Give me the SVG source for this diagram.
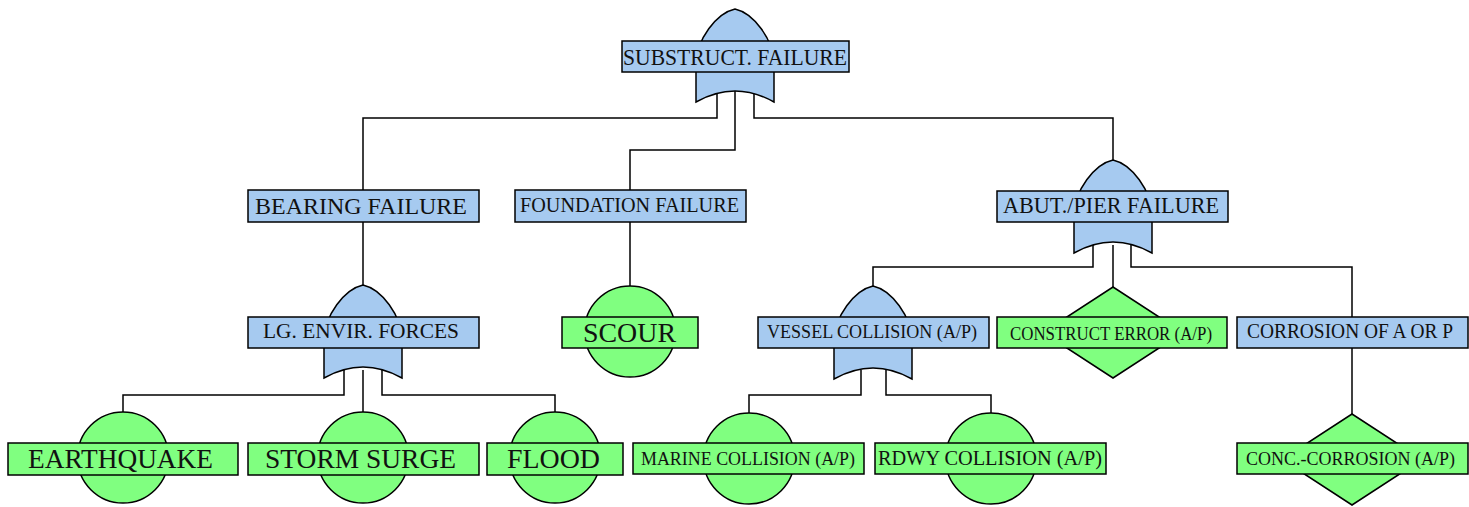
<svg xmlns="http://www.w3.org/2000/svg" xmlns:xlink="http://www.w3.org/1999/xlink" width="1469" height="507" viewBox="0 0 1469 507">
<style>
.bg{fill:#ffffff}
.wire{fill:none;stroke:#000;stroke-width:1.5}
.blue{fill:#A6CAF0;stroke:#000;stroke-width:1.5}
.green{fill:#80FF80;stroke:#000;stroke-width:1.5}
.t{font-family:"Liberation Serif","Times New Roman",serif;fill:#111}
</style>
<defs>
<path id="orgate" d="M-39,93 V56 C-39,30 -18,4 0,0 C18,4 39,30 39,56 V93 Q0,71 -39,93 Z"/>
</defs>
<rect class="bg" x="0" y="0" width="1469" height="507"/>
<g id="connectors" class="wire">
<path d="M717,90 V118 H363 V190"/>
<path d="M735,85 V150 H630 V190"/>
<path d="M754,90 V118 H1113 V160"/>
<path d="M363,222 V285"/>
<path d="M630,222 V286"/>
<path d="M344,370 V395 H123 V412"/>
<path d="M363,370 V412"/>
<path d="M382,370 V395 H555 V412"/>
<path d="M1093,245 V267 H873 V286"/>
<path d="M1113,245 V287"/>
<path d="M1131,245 V267 H1352 V317"/>
<path d="M861,370 V395 H749 V413"/>
<path d="M886,370 V395 H991 V413"/>
<path d="M1352,348 V414"/>
</g>
<g id="substruct-failure">
<use xlink:href="#orgate" href="#orgate" x="735" y="9" class="blue"/>
<rect class="blue" x="622" y="41" width="227" height="31"/>
<text class="t" x="623" y="65" font-size="24" textLength="224" lengthAdjust="spacingAndGlyphs">SUBSTRUCT. FAILURE</text>
</g>
<g id="bearing-failure">
<rect class="blue" x="248" y="190" width="231" height="32"/>
<text class="t" x="255" y="214" font-size="24" textLength="212" lengthAdjust="spacingAndGlyphs">BEARING FAILURE</text>
</g>
<g id="foundation-failure">
<rect class="blue" x="515" y="190" width="231" height="32"/>
<text class="t" x="520" y="212" font-size="20.5" textLength="219" lengthAdjust="spacingAndGlyphs">FOUNDATION FAILURE</text>
</g>
<g id="abut-pier-failure">
<use xlink:href="#orgate" href="#orgate" x="1113" y="160" class="blue"/>
<rect class="blue" x="997" y="191" width="231" height="31"/>
<text class="t" x="1003" y="213" font-size="23" textLength="216" lengthAdjust="spacingAndGlyphs">ABUT./PIER FAILURE</text>
</g>
<g id="lg-envir-forces">
<use xlink:href="#orgate" href="#orgate" x="363" y="285" class="blue"/>
<rect class="blue" x="248" y="317" width="231" height="31"/>
<text class="t" x="263" y="338" font-size="22" textLength="196" lengthAdjust="spacingAndGlyphs">LG. ENVIR. FORCES</text>
</g>
<g id="scour">
<circle class="green" cx="630" cy="331.5" r="45.5"/>
<rect class="green" x="562" y="317" width="136" height="31"/>
<text class="t" x="583" y="342" font-size="28" textLength="93" lengthAdjust="spacingAndGlyphs">SCOUR</text>
</g>
<g id="vessel-collision">
<use xlink:href="#orgate" href="#orgate" x="873" y="286" class="blue"/>
<rect class="blue" x="758" y="317" width="231" height="31"/>
<text class="t" x="767" y="338" font-size="18.5" textLength="210" lengthAdjust="spacingAndGlyphs">VESSEL COLLISION (A/P)</text>
</g>
<g id="construct-error">
<polygon class="green" points="1113,287 1183,332.5 1113,378 1043,332.5"/>
<rect class="green" x="997" y="317" width="230" height="31"/>
<text class="t" x="1010" y="340" font-size="18" textLength="202" lengthAdjust="spacingAndGlyphs">CONSTRUCT ERROR (A/P)</text>
</g>
<g id="corrosion-a-or-p">
<rect class="blue" x="1237" y="317" width="231" height="31"/>
<text class="t" x="1247" y="338" font-size="20" textLength="206" lengthAdjust="spacingAndGlyphs">CORROSION OF A OR P</text>
</g>
<g id="earthquake">
<circle class="green" cx="123" cy="457.5" r="45.5"/>
<rect class="green" x="8" y="443" width="230" height="32"/>
<text class="t" x="28" y="468" font-size="28" textLength="185" lengthAdjust="spacingAndGlyphs">EARTHQUAKE</text>
</g>
<g id="storm-surge">
<circle class="green" cx="363" cy="457.5" r="45.5"/>
<rect class="green" x="248" y="443" width="231" height="32"/>
<text class="t" x="265" y="468" font-size="28" textLength="191" lengthAdjust="spacingAndGlyphs">STORM SURGE</text>
</g>
<g id="flood">
<circle class="green" cx="555" cy="457.5" r="45.5"/>
<rect class="green" x="487" y="443" width="136" height="32"/>
<text class="t" x="507" y="468" font-size="28" textLength="93" lengthAdjust="spacingAndGlyphs">FLOOD</text>
</g>
<g id="marine-collision">
<circle class="green" cx="749" cy="458.5" r="45.5"/>
<rect class="green" x="633" y="443" width="231" height="31"/>
<text class="t" x="641" y="465" font-size="18.5" textLength="214" lengthAdjust="spacingAndGlyphs">MARINE COLLISION (A/P)</text>
</g>
<g id="rdwy-collision">
<circle class="green" cx="991" cy="458.5" r="45.5"/>
<rect class="green" x="875" y="443" width="231" height="31"/>
<text class="t" x="878" y="465" font-size="20.5" textLength="224" lengthAdjust="spacingAndGlyphs">RDWY COLLISION (A/P)</text>
</g>
<g id="conc-corrosion">
<polygon class="green" points="1352,414 1422,459.5 1352,505 1282,459.5"/>
<rect class="green" x="1237" y="443" width="231" height="31"/>
<text class="t" x="1246" y="465" font-size="18.5" textLength="209" lengthAdjust="spacingAndGlyphs">CONC.-CORROSION (A/P)</text>
</g>
</svg>
